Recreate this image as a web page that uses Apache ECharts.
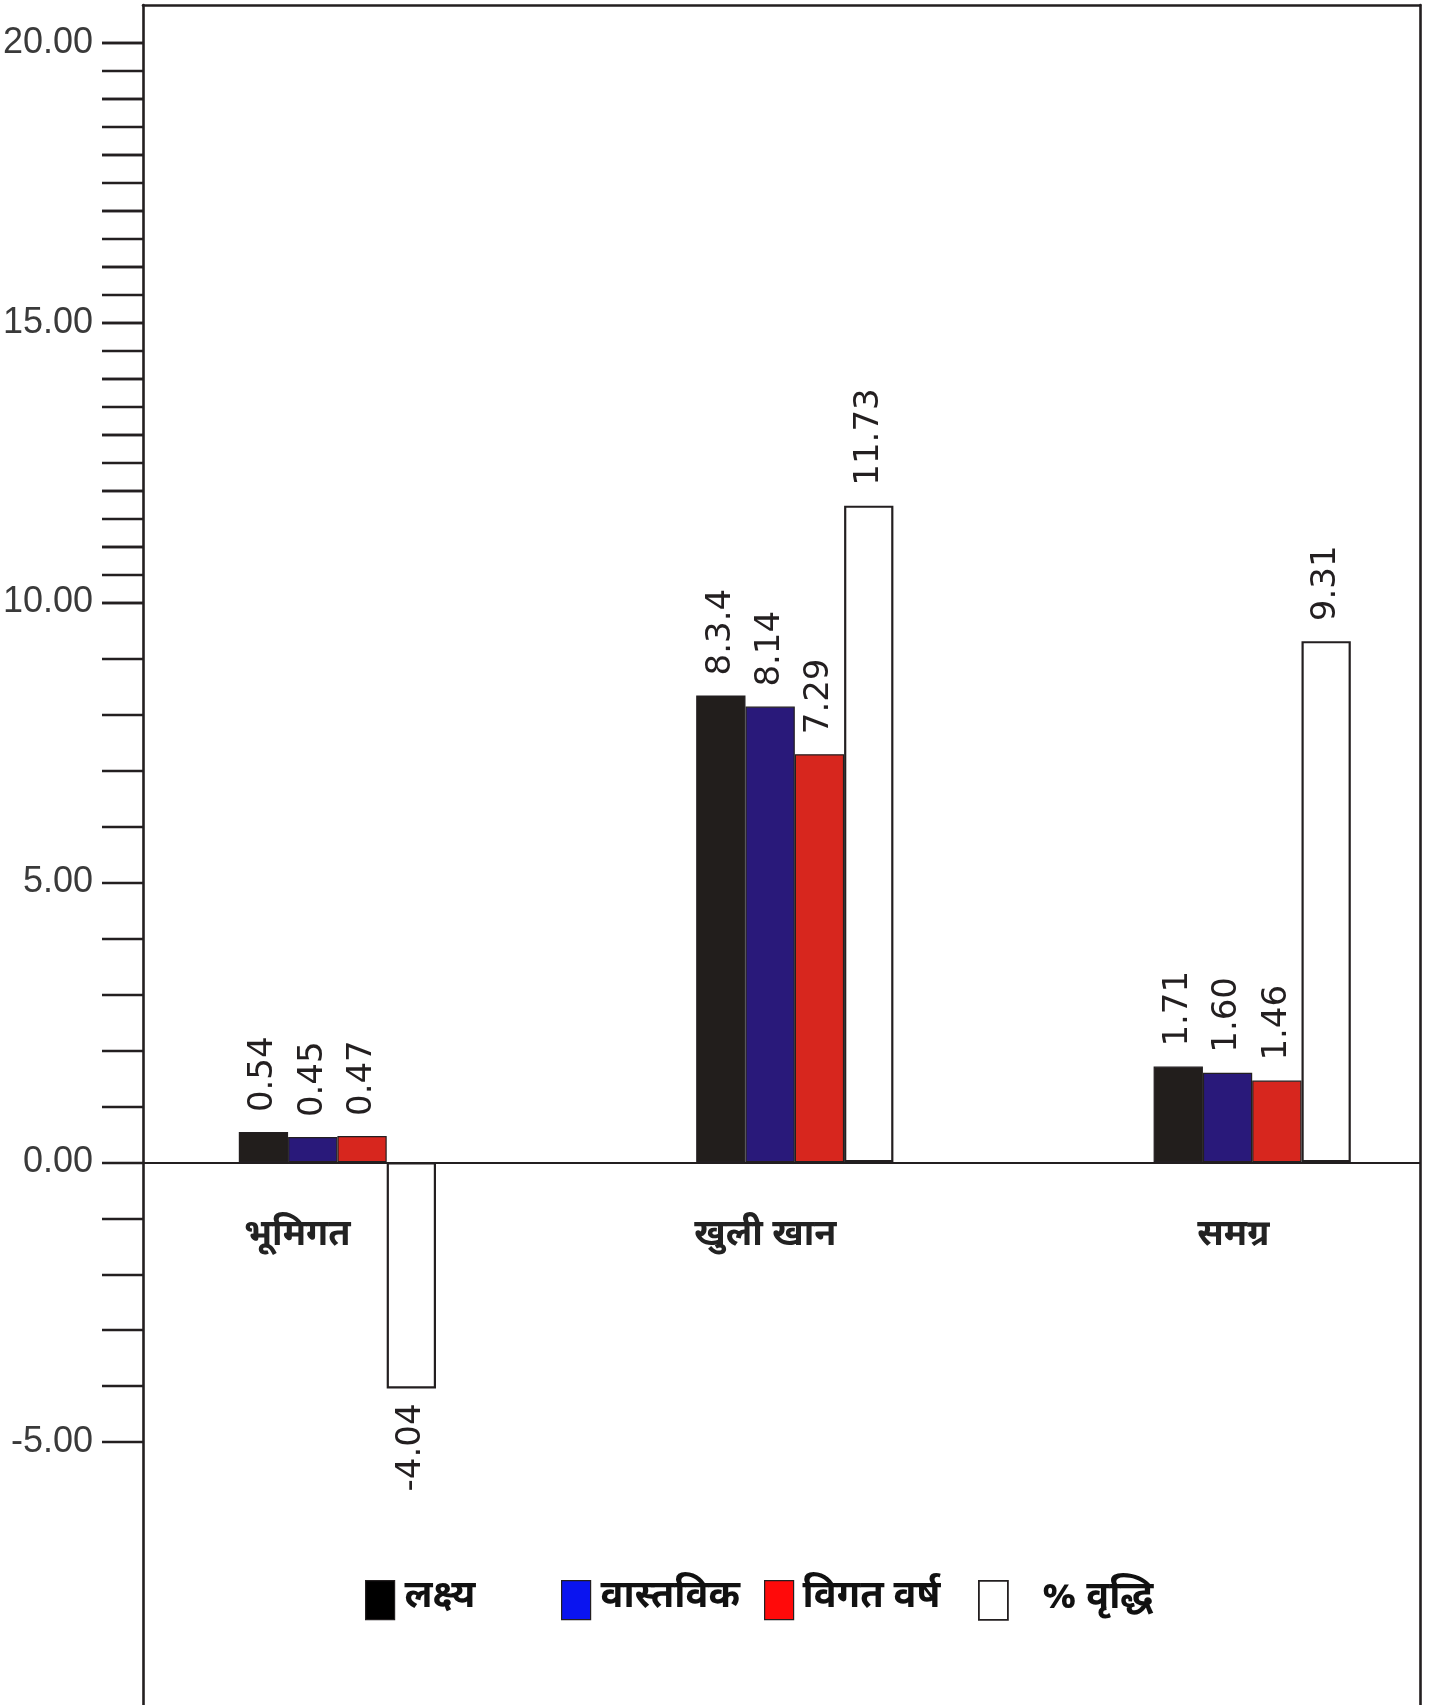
<!DOCTYPE html>
<html>
<head>
<meta charset="utf-8">
<script src="https://cdn.jsdelivr.net/npm/echarts@6/dist/echarts.min.js"></script>
<style>
  html, body { margin: 0; padding: 0; background: #ffffff; }
  #chart { width: 1434px; height: 1705px; }
</style>
</head>
<body>
<div id="chart"></div>
<script>
// ---- data ----
const categories = ['भूमिगत', 'खुली खान', 'समग्र'];
const seriesNames = ['लक्ष्य', 'वास्तविक', 'विगत वर्ष', '% वृद्धि'];
const target = [0.54, 8.34, 1.71];
const actual = [0.45, 8.14, 1.60];
const lastYear = [0.47, 7.29, 1.46];
const growth = [-4.04, 11.73, 9.31];
const targetLabelText = ['0.54', '8.3.4', '1.71'];
const yTickLabels = [-5, 0, 5, 10, 15, 20];

// ---- layout (pixels) ----
const Y0 = 1162.3;          // pixel of value 0
const PPU = 55.98;          // pixels per unit
const yTop20 = Y0 - 20 * PPU;
const plotH = 25 * PPU;     // -5 .. 20
const INK = '#231f20';
const DEVA = "'Noto Sans Devanagari','Lohit Devanagari','FreeSans','Mangal',sans-serif";
const NUMF = "'DejaVu Sans','Liberation Sans',sans-serif";
const AXF = "'Liberation Sans Narrow','Arial Narrow','Liberation Sans',sans-serif";

const chart = echarts.init(document.getElementById('chart'), null, { renderer: 'canvas' });

const barColors = ['#221e1c', '#29197a', '#d7261e', '#ffffff'];
const legendColors = ['#000000', '#0a14f0', '#ff0a0a', '#ffffff'];
const seriesData = [target, actual, lastYear, growth];

function labelFor(si) {
  return function (p) {
    if (si === 0) return targetLabelText[p.dataIndex];
    return Number(p.value).toFixed(2);
  };
}

const series = seriesData.map((arr, si) => ({
  name: seriesNames[si],
  type: 'bar',
  xAxisIndex: 0,
  yAxisIndex: 0,
  barWidth: 49.3,
  barGap: '0%',
  itemStyle: {
    color: barColors[si],
    borderColor: INK,
    borderWidth: si === 3 ? 2.2 : 1.2
  },
  label: {
    show: true,
    position: 'top',
    distance: 20,
    rotate: 90,
    align: 'left',
    verticalAlign: 'middle',
    fontFamily: NUMF,
    fontSize: 34,
    color: INK,
    formatter: labelFor(si)
  },
  data: arr.map(v => v < 0
    ? { value: v, label: { position: 'bottom', align: 'right', distance: 15 } }
    : { value: v })
}));

const legendLefts = [365, 561, 764, 978];
const legendTextPad = [5, 5, 4, 29];
const legends = seriesNames.map((n, i) => ({
  data: [{
    name: n,
    itemStyle: {
      color: legendColors[i],
      borderColor: INK,
      borderWidth: i === 3 ? 1.8 : 1.2
    }
  }],
  left: legendLefts[i],
  top: 1580,
  padding: 0,
  icon: 'rect',
  itemWidth: 29,
  itemHeight: 39,
  selectedMode: false,
  textStyle: {
    fontFamily: DEVA,
    fontSize: 38,
    fontWeight: 'bold',
    color: '#111',
    padding: [0, 0, 0, legendTextPad[i]]
  }
}));

const G = { outerBoundsMode: 'none', containLabel: false };

const option = {
  animation: false,
  backgroundColor: '#ffffff',
  legend: legends,
  grid: [
    // 0: bars
    Object.assign({ left: 108.7, width: 1372.2, top: yTop20, height: plotH }, G),
    // 1: y ticks (interval 1) + zero line
    Object.assign({ left: 143, width: 1277, top: yTop20, height: plotH }, G),
    // 2: half-unit ticks between 10 and 20
    Object.assign({ left: 143, width: 1277, top: yTop20, height: 10 * PPU }, G),
    // 3: frame
    Object.assign({ left: 143, width: 1277, top: 5, height: 1800 }, G),
    // 4: category labels
    Object.assign({ left: 63.3, width: 1404, top: yTop20, height: 20 * PPU }, G)
  ],
  xAxis: [
    { gridIndex: 0, type: 'category', data: categories, show: false },
    { gridIndex: 1, type: 'category', data: categories,
      axisLine: { show: true, onZero: true, lineStyle: { color: INK, width: 2 } },
      axisTick: { show: false }, axisLabel: { show: false }, splitLine: { show: false } },
    { gridIndex: 2, type: 'category', data: categories, show: false },
    { gridIndex: 3, type: 'value', min: 0, max: 1, position: 'top',
      axisLine: { show: true, lineStyle: { color: INK, width: 2.6 } },
      axisTick: { show: false }, axisLabel: { show: false }, splitLine: { show: false } },
    { gridIndex: 4, type: 'category', data: categories, position: 'bottom',
      axisLine: { show: false }, axisTick: { show: false }, splitLine: { show: false },
      axisLabel: {
        show: true, margin: 76, verticalAlign: 'middle',
        fontFamily: DEVA, fontSize: 36, fontWeight: 'bold', color: '#222'
      } }
  ],
  yAxis: [
    { gridIndex: 0, type: 'value', min: -5, max: 20, show: false },
    { gridIndex: 1, type: 'value', min: -5, max: 20, interval: 1,
      axisLine: { show: false },
      axisTick: { show: true, inside: false, length: 41, lineStyle: { color: INK, width: 2.4 } },
      splitLine: { show: false },
      axisLabel: {
        show: true, margin: 50, fontFamily: AXF, fontSize: 36, color: '#3a3a3a',
        formatter: v => yTickLabels.indexOf(v) >= 0 ? v.toFixed(2) : ''
      } },
    { gridIndex: 2, type: 'value', min: 10, max: 20, interval: 0.5,
      axisLine: { show: false },
      axisTick: { show: true, inside: false, length: 41, lineStyle: { color: INK, width: 2.4 } },
      axisLabel: { show: false }, splitLine: { show: false } },
    { gridIndex: 3, type: 'value', min: 0, max: 1, position: 'left', inverse: true,
      axisLine: { show: true, onZero: false, lineStyle: { color: INK, width: 2.6 } },
      axisTick: { show: false }, axisLabel: { show: false }, splitLine: { show: false } },
    { gridIndex: 3, type: 'value', min: 0, max: 1, position: 'right',
      axisLine: { show: true, onZero: false, lineStyle: { color: INK, width: 2.6 } },
      axisTick: { show: false }, axisLabel: { show: false }, splitLine: { show: false } },
    { gridIndex: 4, type: 'value', min: 0, max: 1, show: false }
  ],
  series: series
};

chart.setOption(option);
</script>
</body>
</html>
